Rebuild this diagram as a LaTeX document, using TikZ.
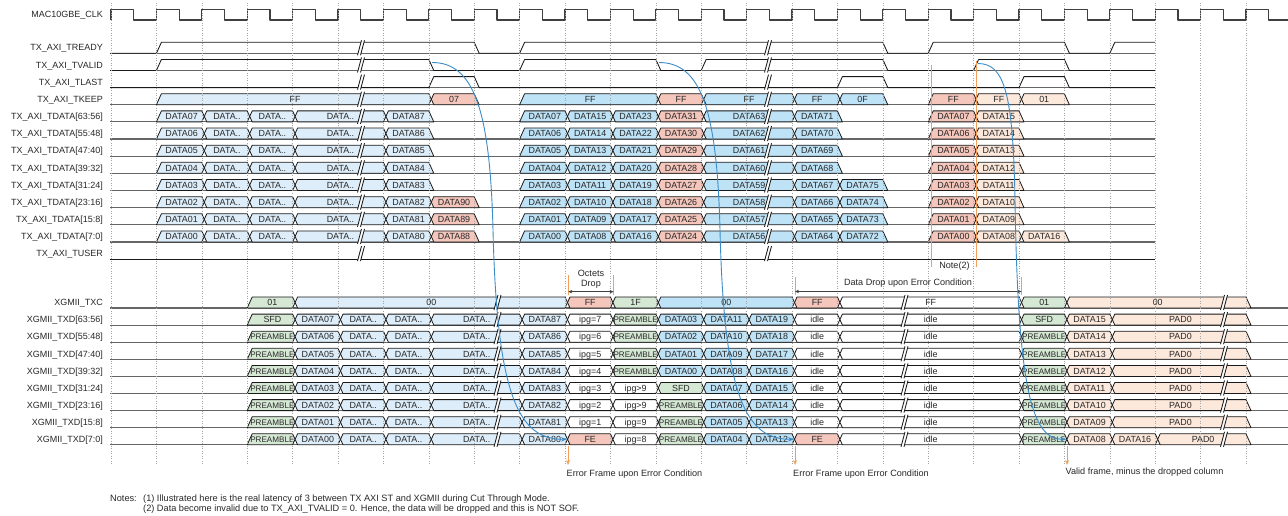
\documentclass[tikz,border=0pt]{standalone}
\usepackage{fontspec}
\setmainfont{Liberation Sans}
\usetikzlibrary{arrows.meta}
\definecolor{lblue}{RGB}{221,238,250}
\definecolor{mblue}{RGB}{190,227,247}
\definecolor{rbox}{RGB}{244,198,188}
\definecolor{pbox}{RGB}{253,233,220}
\definecolor{gbox}{RGB}{213,232,212}
\definecolor{cblue}{RGB}{60,140,200}
\definecolor{orng}{RGB}{240,160,90}
\definecolor{txt}{RGB}{40,40,40}
\pgfmathdeclarefunction{tx}{1}{\pgfmathparse{111+45.4*#1}}
\newcounter{bxc}
\def\bxo{o}
\newcommand{\dn}[1]{DATA\ifnum\numexpr#1\relax<10 0\fi\the\numexpr#1\relax}
\newcommand{\pre}{{\fontsize{8.1}{9}\selectfont PREAMBLE}}
\newcommand{\bx}[7]{%
  \pgfmathsetmacro\xa{111+45.4*(#1)}%
  \pgfmathsetmacro\xb{111+45.4*(#2)}%
  \pgfmathsetmacro\yt{#3-5.5}%
  \pgfmathsetmacro\yb{#3+5.5}%
  \pgfmathsetmacro\ym{#3}%
  \pgfmathsetmacro\ybs{#3+3.2}%
  \pgfmathsetmacro\xas{\xa+5}%
  \pgfmathsetmacro\xah{\xa+2.5}%
  \pgfmathsetmacro\xbs{\xb+5}%
  \pgfmathsetmacro\xbh{\xb+2.5}%
  \pgfmathsetmacro\xc{(\xa+\xb)/2+2.5}%
  \def\bxL{#6}\def\bxR{#7}%
  \ifx\bxL\bxo
    \ifx\bxR\bxo
      \path[boxline,fill=#5] (\xa,\yb) -- (\xas,\yt) -- (\xb,\yt) -- (\xbs,\yb) -- cycle;
    \else
      \path[boxline,fill=#5] (\xa,\yb) -- (\xas,\yt) -- (\xb,\yt) -- (\xbh,\ym) -- (\xb,\yb) -- cycle;
    \fi
  \else
    \ifx\bxR\bxo
      \path[boxline,fill=#5] (\xah,\ym) -- (\xas,\yt) -- (\xb,\yt) -- (\xbs,\yb) -- (\xas,\yb) -- cycle;
    \else
      \path[boxline,fill=#5] (\xah,\ym) -- (\xas,\yt) -- (\xb,\yt) -- (\xbh,\ym) -- (\xb,\yb) -- (\xas,\yb) -- cycle;
    \fi
  \fi
  \stepcounter{bxc}%
  \node[lbl] (bx\thebxc) at (\xc,\ybs) {#4};%
}
\newcommand{\brk}[2]{%
  \pgfmathsetmacro\bka{#1-3.5}\pgfmathsetmacro\bkb{#1+0.5}%
  \pgfmathsetmacro\bkc{#1-0.5}\pgfmathsetmacro\bkd{#1+3.5}%
  \pgfmathsetmacro\bkt{#2-7.5}\pgfmathsetmacro\bkbot{#2+7.5}%
  \fill[white] (\bka,\bkbot) -- (\bkb,\bkt) -- (\bkd,\bkt) -- (\bkc,\bkbot) -- cycle;
  \draw[sigline] (\bka,\bkbot) -- (\bkb,\bkt) (\bkc,\bkbot) -- (\bkd,\bkt);
}
\begin{document}
\begin{tikzpicture}[x=1pt,y=-1pt,
  lbl/.style={inner sep=0pt, text=txt, font=\fontsize{8.9}{10}\selectfont, anchor=base},
  rowlbl/.style={inner sep=0pt, text=txt, font=\fontsize{9}{10}\selectfont, anchor=base east},
  note/.style={inner sep=0pt, text=txt, font=\fontsize{9.1}{10}\selectfont},
  notes/.style={inner sep=0pt, text=txt, font=\fontsize{9.2}{10}\selectfont},
  boxline/.style={draw=black!90, line width=0.8pt, line join=round},
  sigline/.style={draw=black!90, line width=0.85pt, line join=round},
  baseln/.style={draw=black!60, line width=1.2pt},
  gridln/.style={draw=black!35, dotted, line width=0.5pt},
  clk/.style={draw=black!75, line width=1.2pt, line join=round},
  curv/.style={draw=cblue, line width=0.9pt, -{Stealth[length=6pt,width=4.5pt]}},
  orngln/.style={draw=orng, line width=1pt},
  orngarr/.style={draw=orng, line width=1pt, -{Stealth[length=5pt,width=4pt]}},
  dimarrow/.style={draw=black!75, line width=0.6pt, {Stealth[length=4pt,width=3.5pt]}-{Stealth[length=4pt,width=3.5pt]}}
]
\fill[white] (0,0) rectangle (1288,516);
\useasboundingbox (0,0) rectangle (1288,516);

% ---------- row labels ----------
\node[rowlbl] (lclk) at (103,18) {MAC10GBE\_CLK};
\foreach \k/\nm in {0/TX\_AXI\_TREADY,1/TX\_AXI\_TVALID,2/TX\_AXI\_TLAST,3/TX\_AXI\_TKEEP,
  4/TX\_AXI\_TDATA[63:56],5/TX\_AXI\_TDATA[55:48],6/TX\_AXI\_TDATA[47:40],7/TX\_AXI\_TDATA[39:32],
  8/TX\_AXI\_TDATA[31:24],9/TX\_AXI\_TDATA[23:16],10/TX\_AXI\_TDATA[15:8],11/TX\_AXI\_TDATA[7:0],12/TX\_AXI\_TUSER}{
  \pgfmathsetmacro\y{47.8+17.15*\k}
  \pgfmathsetmacro\yl{\y+3.2}
  \node[rowlbl] (la\k) at (103,\yl) {\nm};
  \draw[baseln] (110,\y+5.5) -- (1155.2,\y+5.5);
}
\foreach \k/\nm in {0/XGMII\_TXC,1/XGMII\_TXD[63:56],2/XGMII\_TXD[55:48],3/XGMII\_TXD[47:40],
  4/XGMII\_TXD[39:32],5/XGMII\_TXD[31:24],6/XGMII\_TXD[23:16],7/XGMII\_TXD[15:8],8/XGMII\_TXD[7:0]}{
  \pgfmathsetmacro\y{302.5+17.1*\k}
  \pgfmathsetmacro\yl{\y+3.2}
  \node[rowlbl] (lx\k) at (103,\yl) {\nm};
  \draw[baseln] (110,\y+5.5) -- (1288,\y+5.5);
}

% ---------- clock ----------
\draw[clk] ({tx(0)},20) -- ({tx(0)},9.5)
  \foreach \t in {0,...,24}{ -- ({tx(\t)+22.7},9.5) -- ({tx(\t)+22.7},20) -- ({tx(\t+1)},20) -- ({tx(\t+1)},9.5)}
  -- ({tx(25)+22.7},9.5) -- ({tx(25)+22.7},20) -- (1288,20);

% ---------- single-bit signals ----------
\pgfmathsetmacro\hi{47.8-5.5}\pgfmathsetmacro\lo{47.8+5.5}
\draw[sigline] (110,\lo) -- ({tx(1)},\lo) -- ({tx(1)+5},\hi) -- ({tx(8)},\hi) -- ({tx(8)+5},\lo) -- ({tx(9)},\lo) -- ({tx(9)+5},\hi) -- ({tx(17)},\hi) -- ({tx(17)+5},\lo) -- ({tx(18)},\lo) -- ({tx(18)+5},\hi) -- ({tx(21)},\hi) -- ({tx(21)+5},\lo) -- ({tx(22)},\lo) -- ({tx(22)+5},\hi) -- ({tx(23)},\hi);
\pgfmathsetmacro\hi{64.95-5.5}\pgfmathsetmacro\lo{64.95+5.5}
\draw[sigline] (110,\lo) -- ({tx(1)},\lo) -- ({tx(1)+5},\hi) -- ({tx(7)},\hi) -- ({tx(7)+5},\lo) -- ({tx(9)},\lo) -- ({tx(9)+5},\hi) -- ({tx(12)},\hi) -- ({tx(12)+5},\lo) -- ({tx(13)},\lo) -- ({tx(13)+5},\hi) -- ({tx(17)},\hi) -- ({tx(17)+5},\lo) -- ({tx(19)},\lo) -- ({tx(19)+5},\hi) -- ({tx(21)},\hi) -- ({tx(21)+5},\lo) -- ({tx(23)},\lo);
\pgfmathsetmacro\hi{82.1-5.5}\pgfmathsetmacro\lo{82.1+5.5}
\draw[sigline] (110,\lo) -- ({tx(7)},\lo) -- ({tx(7)+5},\hi) -- ({tx(8)},\hi) -- ({tx(8)+5},\lo) -- ({tx(16)},\lo) -- ({tx(16)+5},\hi) -- ({tx(17)},\hi) -- ({tx(17)+5},\lo) -- ({tx(20)},\lo) -- ({tx(20)+5},\hi) -- ({tx(21)},\hi) -- ({tx(21)+5},\lo) -- ({tx(23)},\lo);
\draw[sigline] (110,253.6+5.5) -- ({tx(23)},253.6+5.5);

% ---------- TKEEP ----------
\def\Y{99.25}
\bx{1}{7}{\Y}{FF}{lblue}{o}{x}
\bx{7}{8}{\Y}{07}{rbox}{x}{o}
\bx{9}{12}{\Y}{FF}{mblue}{o}{x}
\bx{12}{13}{\Y}{FF}{rbox}{x}{x}
\bx{13}{15}{\Y}{FF}{mblue}{x}{x}
\bx{15}{16}{\Y}{FF}{mblue}{x}{x}
\bx{16}{17}{\Y}{0F}{mblue}{x}{o}
\bx{18}{19}{\Y}{FF}{rbox}{o}{x}
\bx{19}{20}{\Y}{FF}{pbox}{x}{x}
\bx{20}{21}{\Y}{01}{pbox}{x}{o}

% ---------- TDATA ----------
\foreach \k in {0,...,7}{
  \pgfmathtruncatemacro\bi{7-\k}
  \pgfmathsetmacro\y{116.4+17.15*\k}
  \bx{1}{2}{\y}{\dn{\bi}}{lblue}{o}{x}
  \bx{2}{3}{\y}{DATA..}{lblue}{x}{x}
  \bx{3}{4}{\y}{DATA..}{lblue}{x}{x}
  \bx{4}{6}{\y}{DATA..}{lblue}{x}{x}
  \ifnum\bi<3
    \bx{6}{7}{\y}{\dn{80+\bi}}{lblue}{x}{x}
    \bx{7}{8}{\y}{\dn{88+\bi}}{rbox}{x}{o}
  \else
    \bx{6}{7}{\y}{\dn{80+\bi}}{lblue}{x}{o}
  \fi
  \bx{9}{10}{\y}{\dn{\bi}}{mblue}{o}{x}
  \bx{10}{11}{\y}{\dn{8+\bi}}{mblue}{x}{x}
  \bx{11}{12}{\y}{\dn{16+\bi}}{mblue}{x}{x}
  \bx{12}{13}{\y}{\dn{24+\bi}}{rbox}{x}{x}
  \bx{13}{15}{\y}{\dn{56+\bi}}{mblue}{x}{x}
  \ifnum\bi<4
    \bx{15}{16}{\y}{\dn{64+\bi}}{mblue}{x}{x}
    \bx{16}{17}{\y}{\dn{72+\bi}}{mblue}{x}{o}
  \else
    \bx{15}{16}{\y}{\dn{64+\bi}}{mblue}{x}{o}
  \fi
  \bx{18}{19}{\y}{\dn{\bi}}{rbox}{o}{x}
  \ifnum\bi=0
    \bx{19}{20}{\y}{\dn{8}}{pbox}{x}{x}
    \bx{20}{21}{\y}{\dn{16}}{pbox}{x}{o}
  \else
    \bx{19}{20}{\y}{\dn{8+\bi}}{pbox}{x}{o}
  \fi
}

% ---------- XGMII_TXC ----------
\def\Y{302.5}
\bx{3}{4}{\Y}{01}{gbox}{o}{x}
\bx{4}{10}{\Y}{00}{lblue}{x}{x}
\bx{10}{11}{\Y}{FF}{rbox}{x}{x}
\bx{11}{12}{\Y}{1F}{gbox}{x}{x}
\bx{12}{15}{\Y}{00}{mblue}{x}{x}
\bx{15}{16}{\Y}{FF}{rbox}{x}{x}
\bx{16}{20}{\Y}{FF}{white}{x}{x}
\bx{20}{21}{\Y}{01}{gbox}{x}{x}
\bx{21}{25}{\Y}{00}{pbox}{x}{o}

% ---------- XGMII_TXD ----------
\foreach \k in {1,...,8}{
  \pgfmathtruncatemacro\bi{8-\k}
  \pgfmathsetmacro\y{302.5+17.1*\k}
  \ifnum\bi=7 \bx{3}{4}{\y}{SFD}{gbox}{o}{x}\else \bx{3}{4}{\y}{\pre}{gbox}{o}{x}\fi
  \bx{4}{5}{\y}{\dn{\bi}}{lblue}{x}{x}
  \bx{5}{6}{\y}{DATA..}{lblue}{x}{x}
  \bx{6}{7}{\y}{DATA..}{lblue}{x}{x}
  \bx{7}{9}{\y}{DATA..}{lblue}{x}{x}
  \bx{9}{10}{\y}{\dn{80+\bi}}{lblue}{x}{x}
  \ifnum\bi=0 \bx{10}{11}{\y}{FE}{rbox}{x}{x}\else \bx{10}{11}{\y}{ipg=\bi}{white}{x}{x}\fi
  \ifnum\bi>3 \bx{11}{12}{\y}{\pre}{gbox}{x}{x}\fi
  \ifnum\bi=3 \bx{11}{12}{\y}{ipg>9}{white}{x}{x}\fi
  \ifnum\bi=2 \bx{11}{12}{\y}{ipg>9}{white}{x}{x}\fi
  \ifnum\bi=1 \bx{11}{12}{\y}{ipg=9}{white}{x}{x}\fi
  \ifnum\bi=0 \bx{11}{12}{\y}{ipg=8}{white}{x}{x}\fi
  \ifnum\bi>3 \bx{12}{13}{\y}{\dn{\bi-4}}{mblue}{x}{x}\fi
  \ifnum\bi=3 \bx{12}{13}{\y}{SFD}{gbox}{x}{x}\fi
  \ifnum\bi<3 \bx{12}{13}{\y}{\pre}{gbox}{x}{x}\fi
  \bx{13}{14}{\y}{\dn{\bi+4}}{mblue}{x}{x}
  \bx{14}{15}{\y}{\dn{\bi+12}}{mblue}{x}{x}
  \ifnum\bi=0 \bx{15}{16}{\y}{FE}{rbox}{x}{x}\else \bx{15}{16}{\y}{idle}{white}{x}{x}\fi
  \bx{16}{20}{\y}{idle}{white}{x}{x}
  \ifnum\bi=7 \bx{20}{21}{\y}{SFD}{gbox}{x}{x}\else \bx{20}{21}{\y}{\pre}{gbox}{x}{x}\fi
  \bx{21}{22}{\y}{\dn{\bi+8}}{pbox}{x}{x}
  \ifnum\bi=0
    \bx{22}{23}{\y}{\dn{16}}{pbox}{x}{x}
    \bx{23}{25}{\y}{PAD0}{pbox}{x}{o}
  \else
    \bx{22}{25}{\y}{PAD0}{pbox}{x}{o}
  \fi
}

% ---------- grid ----------
\foreach \t in {0,...,25}{
  \draw[gridln] ({tx(\t)},3) -- ({tx(\t)},464);
}

% ---------- breaks ----------
\foreach \k in {0,...,12}{
  \pgfmathsetmacro\y{47.8+17.15*\k}
  \brk{361}{\y}
  \brk{768}{\y}
}
\foreach \k in {0,...,8}{
  \pgfmathsetmacro\y{302.5+17.1*\k}
  \brk{497.5}{\y}
  \brk{904.5}{\y}
  \brk{1224}{\y}
}

% ---------- annotations ----------
\draw[orngln] (931.7,65) -- (931.7,267);
\draw[orngln] (976.7,61) -- (976.7,267);
\node[note, anchor=base] (note2) at (954.5,268.2) {Note(2)};

\draw[orngln] (568.3,275) -- (568.3,294.5);
\draw[orngln] (613.5,275) -- (613.5,294.5);
\coordinate (od1) at (568.3,291.7);
\coordinate (od2) at (613.5,291.7);
\draw[dimarrow] (od1) -- (od2);
\node[note, anchor=base] (oct) at (591,276.5) {Octets};
\node[note, anchor=base] (drp) at (591,286.5) {Drop};

\draw[orngln] (795,277) -- (795,295);
\draw[orngln] (1021.5,277) -- (1021.5,295);
\coordinate (dd1) at (795,291.5);
\coordinate (dd2) at (1021.5,291.5);
\draw[dimarrow] (dd1) -- (dd2);
\node[note, anchor=base] (ddrop) at (908,285.2) {Data Drop upon Error Condition};

\coordinate (e1a) at (568,445.5); \coordinate (e1b) at (568,465);
\coordinate (e2a) at (795,445.5); \coordinate (e2b) at (795,465);
\coordinate (e3a) at (1067,445.5); \coordinate (e3b) at (1067,465);
\draw[orngarr] (e1a) -- (e1b);
\draw[orngarr] (e2a) -- (e2b);
\draw[orngarr] (e3a) -- (e3b);
\node[note, anchor=base west] (err1) at (566.5,476.2) {Error Frame upon Error Condition};
\node[note, anchor=base west] (err2) at (793,476.2) {Error Frame upon Error Condition};
\node[note, anchor=base west] (valid) at (1065.5,474.2) {Valid frame, minus the dropped column};

% ---------- blue curves ----------
\coordinate (c1a) at (432,62.5); \coordinate (c1m) at (493,230); \coordinate (c1b) at (567,439.3);
\coordinate (c2a) at (659,62.5); \coordinate (c2m) at (720,230); \coordinate (c2b) at (794,439.3);
\coordinate (c3a) at (978,63.5); \coordinate (c3m) at (1015,200); \coordinate (c3b) at (1066,439.3);
\draw[curv] (c1a) .. controls +(42,0) and +(-3,-120) .. (c1m) .. controls +(4,170) and +(-47,0) .. (c1b);
\draw[curv] (c2a) .. controls +(42,0) and +(-3,-120) .. (c2m) .. controls +(4,170) and +(-47,0) .. (c2b);
\draw[curv] (c3a) .. controls +(27,0) and +(-2,-105) .. (c3m) .. controls +(3,190) and +(-34,0) .. (c3b);

% ---------- notes ----------
\node[notes, anchor=base west] (n0) at (110,501.4) {Notes:};
\node[notes, anchor=base west] (n1) at (143,501.4) {(1) Illustrated here is the real latency of 3 between TX AXI ST and XGMII during Cut Through Mode.};
\node[notes, anchor=base west] (n2) at (143,511) {(2) Data become invalid due to TX\_AXI\_TVALID = 0. Hence, the data will be dropped and this is NOT SOF.};
\end{tikzpicture}
\end{document}
